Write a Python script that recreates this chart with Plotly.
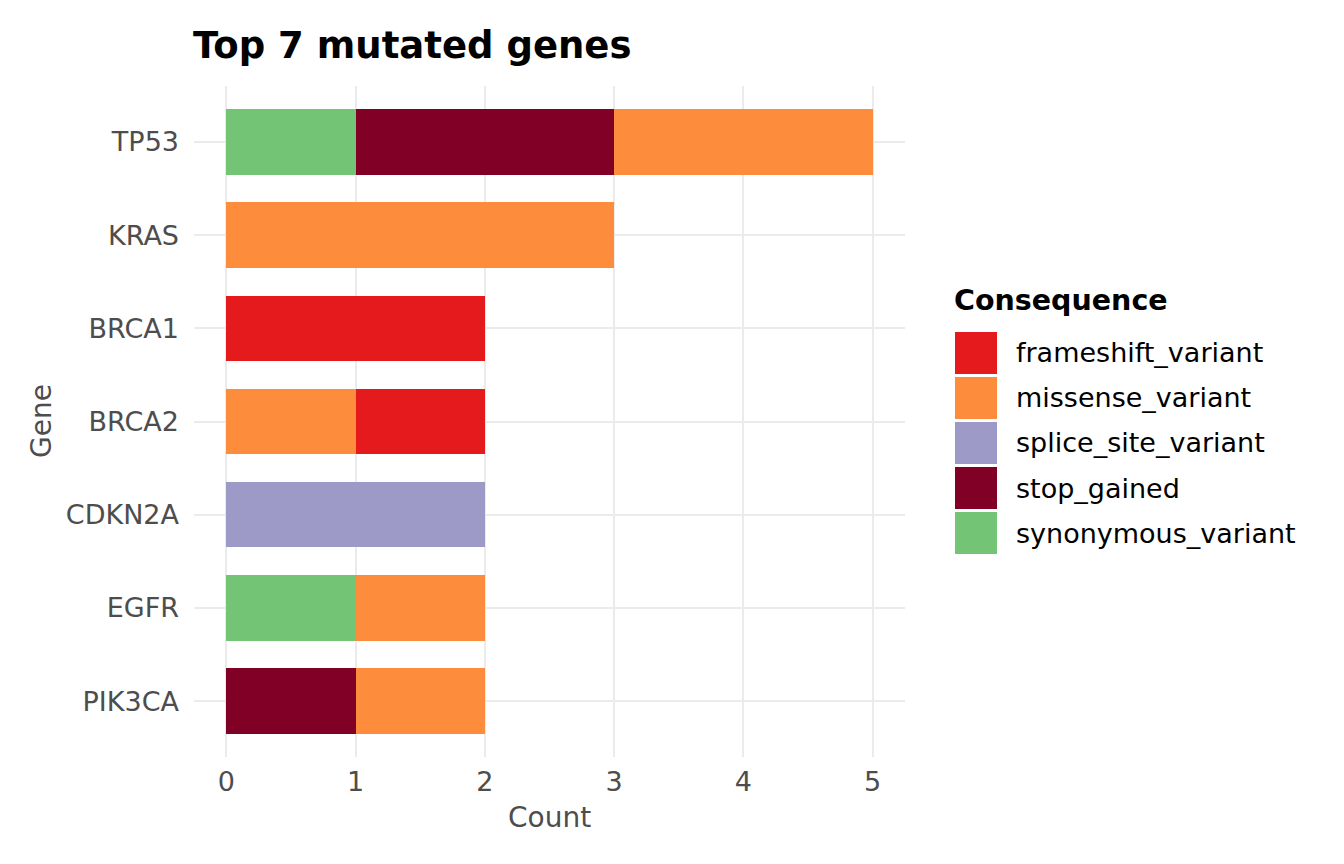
import plotly.graph_objects as go

# dados
genes = ["TP53", "KRAS", "BRCA1", "BRCA2", "CDKN2A", "EGFR", "PIK3CA"]
consequencias = ["frameshift_variant", "missense_variant", "splice_site_variant",
                 "stop_gained", "synonymous_variant"]
frameshift = [0, 0, 2, 1, 0, 0, 0]
missense = [2, 3, 0, 1, 0, 1, 1]
splice = [0, 0, 0, 0, 2, 0, 0]
stop_gained = [2, 0, 0, 0, 0, 0, 1]
synonymous = [1, 0, 0, 0, 0, 1, 0]

cores = {
    "frameshift_variant": "#E41A1C",
    "missense_variant": "#FD8D3C",
    "splice_site_variant": "#9E9AC8",
    "stop_gained": "#800026",
    "synonymous_variant": "#74C476",
}

# a pagina tem 8px de margem no body
OFF = 8
W, H = 1344 - OFF, 864 - OFF
fonte = "DejaVu Sans"
cinza = "#4D4D4D"


def px(p):
    return (p - OFF) / W


def py(p):
    return 1 - (p - OFF) / H


fig = go.Figure()

# ordem de empilhamento igual ao ggplot (ultimo nivel fica a esquerda)
series = [
    ("synonymous_variant", synonymous),
    ("stop_gained", stop_gained),
    ("splice_site_variant", splice),
    ("missense_variant", missense),
    ("frameshift_variant", frameshift),
]
for nome, valores in series:
    fig.add_trace(go.Bar(
        x=valores, y=genes, orientation="h", name=nome, width=0.7,
        marker=dict(color=cores[nome], line=dict(width=0)),
        showlegend=False, xaxis="x", yaxis="y",
    ))

# legenda desenhada como um segundo eixo (chaves grandes como no ggplot)
fig.add_trace(go.Bar(
    x=[1] * len(consequencias), y=consequencias, orientation="h", width=0.93,
    marker=dict(color=[cores[c] for c in consequencias], line=dict(width=0)),
    showlegend=False, hoverinfo="skip", xaxis="x2", yaxis="y2",
))

fig.update_layout(
    width=W, height=H,
    margin=dict(l=0, r=0, t=0, b=0),
    paper_bgcolor="white", plot_bgcolor="white",
    barmode="stack", bargap=0,
    font=dict(family=fonte, size=27, color="black"),
    title=dict(
        text="<b>Top 7 mutated genes</b>",
        x=px(193), xanchor="left", xref="paper",
        y=py(45.5), yanchor="middle", yref="container",
        font=dict(size=37, color="black"),
    ),
    xaxis=dict(
        domain=[px(194), px(905)], range=[-0.25, 5.25],
        tickvals=[0, 1, 2, 3, 4, 5], showgrid=True, gridcolor="#EBEBEB",
        gridwidth=2, zeroline=False, showline=False, ticks="",
        tickfont=dict(size=27, color=cinza), ticklabelstandoff=6,
        anchor="y",
    ),
    yaxis=dict(
        domain=[py(757), py(86)],
        categoryorder="array", categoryarray=genes[::-1],
        range=[-0.6, len(genes) - 0.4],
        showgrid=True, gridcolor="#EBEBEB", gridwidth=2,
        zeroline=False, showline=False, ticks="",
        tickfont=dict(size=27, color=cinza), ticklabelstandoff=14,
        anchor="x",
    ),
    xaxis2=dict(
        domain=[px(955), px(997)], range=[0, 1], visible=False,
        anchor="y2", fixedrange=True,
    ),
    yaxis2=dict(
        domain=[py(556), py(330)],
        categoryorder="array", categoryarray=consequencias[::-1],
        range=[-0.5, len(consequencias) - 0.5],
        side="right", anchor="x2", showgrid=False, zeroline=False,
        showline=False, ticks="", ticklabelstandoff=18,
        tickfont=dict(size=27, color="black"), fixedrange=True,
    ),
    annotations=[
        dict(text="Count", x=px(549.5), y=py(817), xref="paper", yref="paper",
             xanchor="center", yanchor="middle", showarrow=False,
             font=dict(size=28, color=cinza)),
        dict(text="Gene", x=px(42), y=py(421), xref="paper", yref="paper",
             xanchor="center", yanchor="middle", textangle=-90, showarrow=False,
             font=dict(size=28, color=cinza)),
        dict(text="<b>Consequence</b>", x=px(952), y=py(300),
             xref="paper", yref="paper", xanchor="left", yanchor="middle",
             showarrow=False, font=dict(size=28.5, color="black")),
    ],
)

fig.write_html("out.html")
